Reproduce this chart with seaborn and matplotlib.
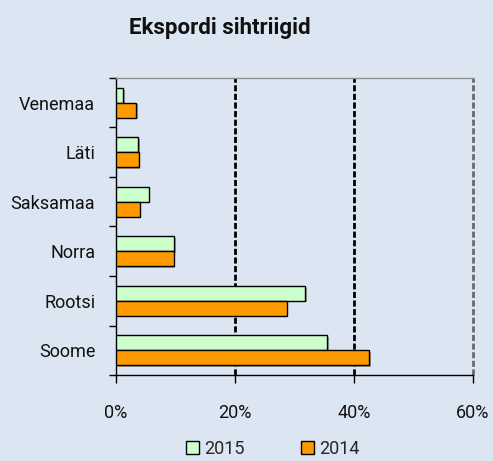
import numpy as np
import pandas as pd
import matplotlib
matplotlib.use("Agg")
import matplotlib.pyplot as plt
import matplotlib.patheffects as pe
from matplotlib.patches import Patch
import seaborn as sns

countries = ["Venemaa", "Läti", "Saksamaa", "Norra", "Rootsi", "Soome"]
years = ["2015", "2014"]
values_2015 = [1.2, 3.7, 5.5, 9.8, 31.8, 35.5]
values_2014 = [3.4, 3.8, 4.0, 9.7, 28.7, 42.5]
x_ticks = [0, 20, 40, 60]
x_tick_labels = ["0%", "20%", "40%", "60%"]
title = "Ekspordi sihtriigid"

colors = {"2015": "#CCFFCC", "2014": "#FF9900"}
bg = "#DCE6F2"

df = pd.DataFrame({
    "country": countries * 2,
    "year": ["2015"] * len(countries) + ["2014"] * len(countries),
    "value": values_2015 + values_2014,
})

sns.set_theme(style="white")
plt.rcParams["font.family"] = ["Roboto", "DejaVu Sans"]

fig = plt.figure(figsize=(4.93, 4.61), dpi=100, facecolor=bg)
ax = fig.add_axes([116 / 493, 1 - 375 / 461, (473 - 116) / 493, (375 - 78) / 461])
ax.set_facecolor(bg)

sns.barplot(data=df, y="country", x="value", hue="year", hue_order=years,
            order=countries, palette=colors, saturation=1, orient="h", width=0.6,
            edgecolor="black", linewidth=1.0, errorbar=None, legend=False, ax=ax,
            zorder=3)

for p in ax.patches:
    p.set_path_effects([pe.SimplePatchShadow(offset=(1.2, -1.2), shadow_rgbFace="#7f7f7f", alpha=0.7),
                        pe.Normal()])

ax.set_xlim(0, 60)
ax.set_ylim(len(countries) - 0.5, -0.5)

for xv in [20, 40]:
    ax.axvline(xv, color="black", lw=2.0, linestyle=(0, (2.2, 0.9)), zorder=2)
ax.axvline(60, color="#6a6a6a", lw=2.0, linestyle=(0, (2.2, 0.9)), zorder=2, clip_on=False)

ax.spines["right"].set_visible(False)
ax.spines["top"].set_color("#909090")
ax.spines["top"].set_linewidth(1.0)
ax.spines["left"].set_color("black")
ax.spines["bottom"].set_color("black")
ax.spines["left"].set_linewidth(1.0)
ax.spines["bottom"].set_linewidth(1.0)

ax.set_xticks(x_ticks)
ax.set_xticklabels(x_tick_labels)
ax.tick_params(axis="x", which="major", length=6, width=1, color="black",
               direction="out", bottom=True, pad=15, labelsize=13, labelcolor="#111111")

ax.set_yticks(range(len(countries)))
ax.set_yticklabels(countries)
ax.set_yticks(np.arange(-0.5, len(countries), 1), minor=True)
ax.tick_params(axis="y", which="major", length=0, pad=15, labelsize=13, labelcolor="#111111")
ax.tick_params(axis="y", which="minor", length=5, width=1, color="black",
               direction="out", left=True)

ax.set_xlabel("")
ax.set_ylabel("")

fig.text(220 / 493, 1 - 28 / 461, title, ha="center", va="center",
         fontsize=16, fontweight="bold", color="#111111")

handles = [Patch(facecolor=colors[y], edgecolor="black", linewidth=1.0, label=y) for y in years]
fig.legend(handles=handles, loc="center", bbox_to_anchor=(273 / 493, 1 - 449 / 461),
           ncol=2, frameon=False, fontsize=13, handlelength=0.72, handleheight=0.72,
           handletextpad=0.3, columnspacing=3.1, borderaxespad=0, borderpad=0)

fig.savefig("out.png", dpi=100, facecolor=bg)
